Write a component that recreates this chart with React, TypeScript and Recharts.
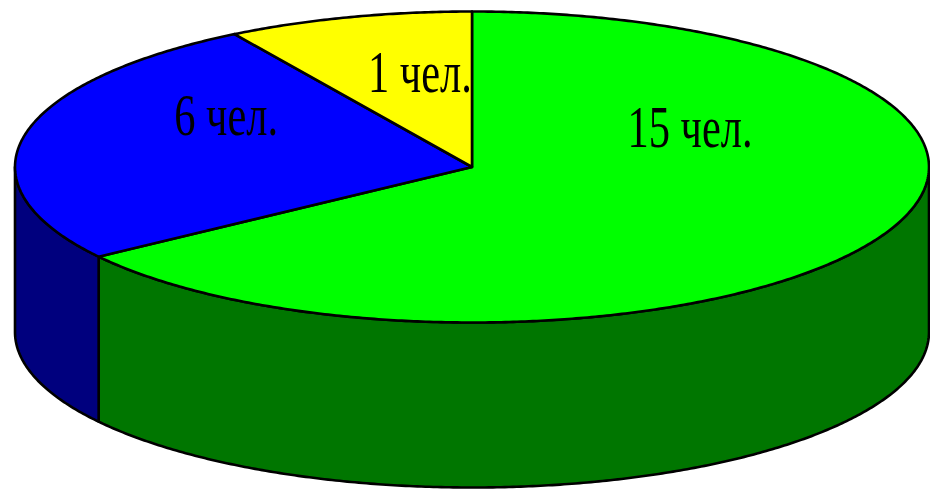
import React from 'react';
import { PieChart, Pie, Cell } from 'recharts';

// ---- data ----
const sliceLabels = ['15 чел.', '6 чел.', '1 чел.'];
const sliceValues = [15, 6, 2];

// ---- style ----
const TOP_COLORS = ['#00FF00', '#0000FF', '#FFFF00'];
const SIDE_COLORS = ['#007600', '#00007E', '#808000'];
const W = 930;
const H = 491;
const CX = 472;
const CY = 167;
const RX = 457;
const TILT = 155.5 / 457;
const DEPTH = 165;
const STROKE_W = 2.6;
const FONT = "'Liberation Serif', 'Times New Roman', serif";
// label anchor as fraction of the ellipse radii (x right, y up), baseline point
const LABEL_POS: [number, number][] = [
  [0.477, 0.129],
  [-0.538, 0.206],
  [-0.114, 0.482],
];

const data = sliceLabels.map((label, i) => ({ name: label, value: sliceValues[i] }));

const RAD = Math.PI / 180;
const pt = (cx: number, cy: number, rx: number, ry: number, a: number) => [
  cx + rx * Math.cos(-a * RAD),
  cy + ry * Math.sin(-a * RAD),
];

const arc = (cx: number, cy: number, rx: number, ry: number, a1: number, a2: number) => {
  const n = Math.max(2, Math.ceil(Math.abs(a2 - a1) / 0.5));
  const out: string[] = [];
  for (let i = 0; i <= n; i++) {
    const a = a1 + ((a2 - a1) * i) / n;
    const [x, y] = pt(cx, cy, rx, ry, a);
    out.push(`${x.toFixed(2)},${y.toFixed(2)}`);
  }
  return out;
};

const Slice3D = (props: any) => {
  const { cx, cy, outerRadius, startAngle, endAngle, fill } = props;
  const name = props.name ?? props.payload?.name;
  const rx = outerRadius;
  const ry = outerRadius * TILT;
  let idx = sliceLabels.indexOf(name);
  if (idx < 0) idx = TOP_COLORS.indexOf(fill);
  const side = SIDE_COLORS[idx] ?? '#333';
  const lo = Math.min(startAngle, endAngle);
  const hi = Math.max(startAngle, endAngle);
  const walls: [number, number][] = [];
  for (let k = -2; k <= 2; k++) {
    const wlo = Math.max(lo, -180 + 360 * k);
    const whi = Math.min(hi, 360 * k);
    if (whi - wlo > 0.01) walls.push([wlo, whi]);
  }
  const topPts = arc(cx, cy, rx, ry, startAngle, endAngle);
  const topD = `M${cx},${cy} L${topPts.join(' L')} Z`;
  return (
    <g>
      {walls.map(([a, b], i) => {
        const upper = arc(cx, cy, rx, ry, a, b);
        const lower = arc(cx, cy + DEPTH, rx, ry, b, a);
        const d = `M${upper.join(' L')} L${lower.join(' L')} Z`;
        return (
          <path key={i} d={d} fill={side} stroke="#000" strokeWidth={STROKE_W} strokeLinejoin="round" />
        );
      })}
      <path d={topD} fill={fill} stroke="#000" strokeWidth={STROKE_W} strokeLinejoin="round" />
    </g>
  );
};

const renderLabel = (p: any) => {
  const i = p.index;
  const [fx, fy] = LABEL_POS[i];
  const rx = p.outerRadius;
  const ry = p.outerRadius * TILT;
  const x = p.cx + fx * rx;
  const y = p.cy - fy * ry;
  return (
    <text
      key={`lbl-${i}`}
      transform={`translate(${x},${y}) scale(0.72,1)`}
      textAnchor="middle"
      fontFamily={FONT}
      fontSize={59}
      fill="#000"
    >
      {sliceLabels[i]}
    </text>
  );
};

export default function App() {
  return (
    <div style={{ position: 'absolute', left: 0, top: 0, width: W, height: H, background: '#fff' }}>
      <PieChart width={W} height={H} margin={{ top: 0, right: 0, bottom: 0, left: 0 }}>
        <Pie
          data={data}
          dataKey="value"
          nameKey="name"
          cx={CX}
          cy={CY}
          innerRadius={0}
          outerRadius={RX}
          startAngle={90}
          endAngle={-270}
          stroke="#000"
          isAnimationActive={false}
          shape={Slice3D}
          activeShape={Slice3D}
          inactiveShape={Slice3D}
          label={renderLabel}
          labelLine={false}
        >
          {data.map((d, i) => (
            <Cell key={d.name} fill={TOP_COLORS[i]} />
          ))}
        </Pie>
      </PieChart>
    </div>
  );
}
